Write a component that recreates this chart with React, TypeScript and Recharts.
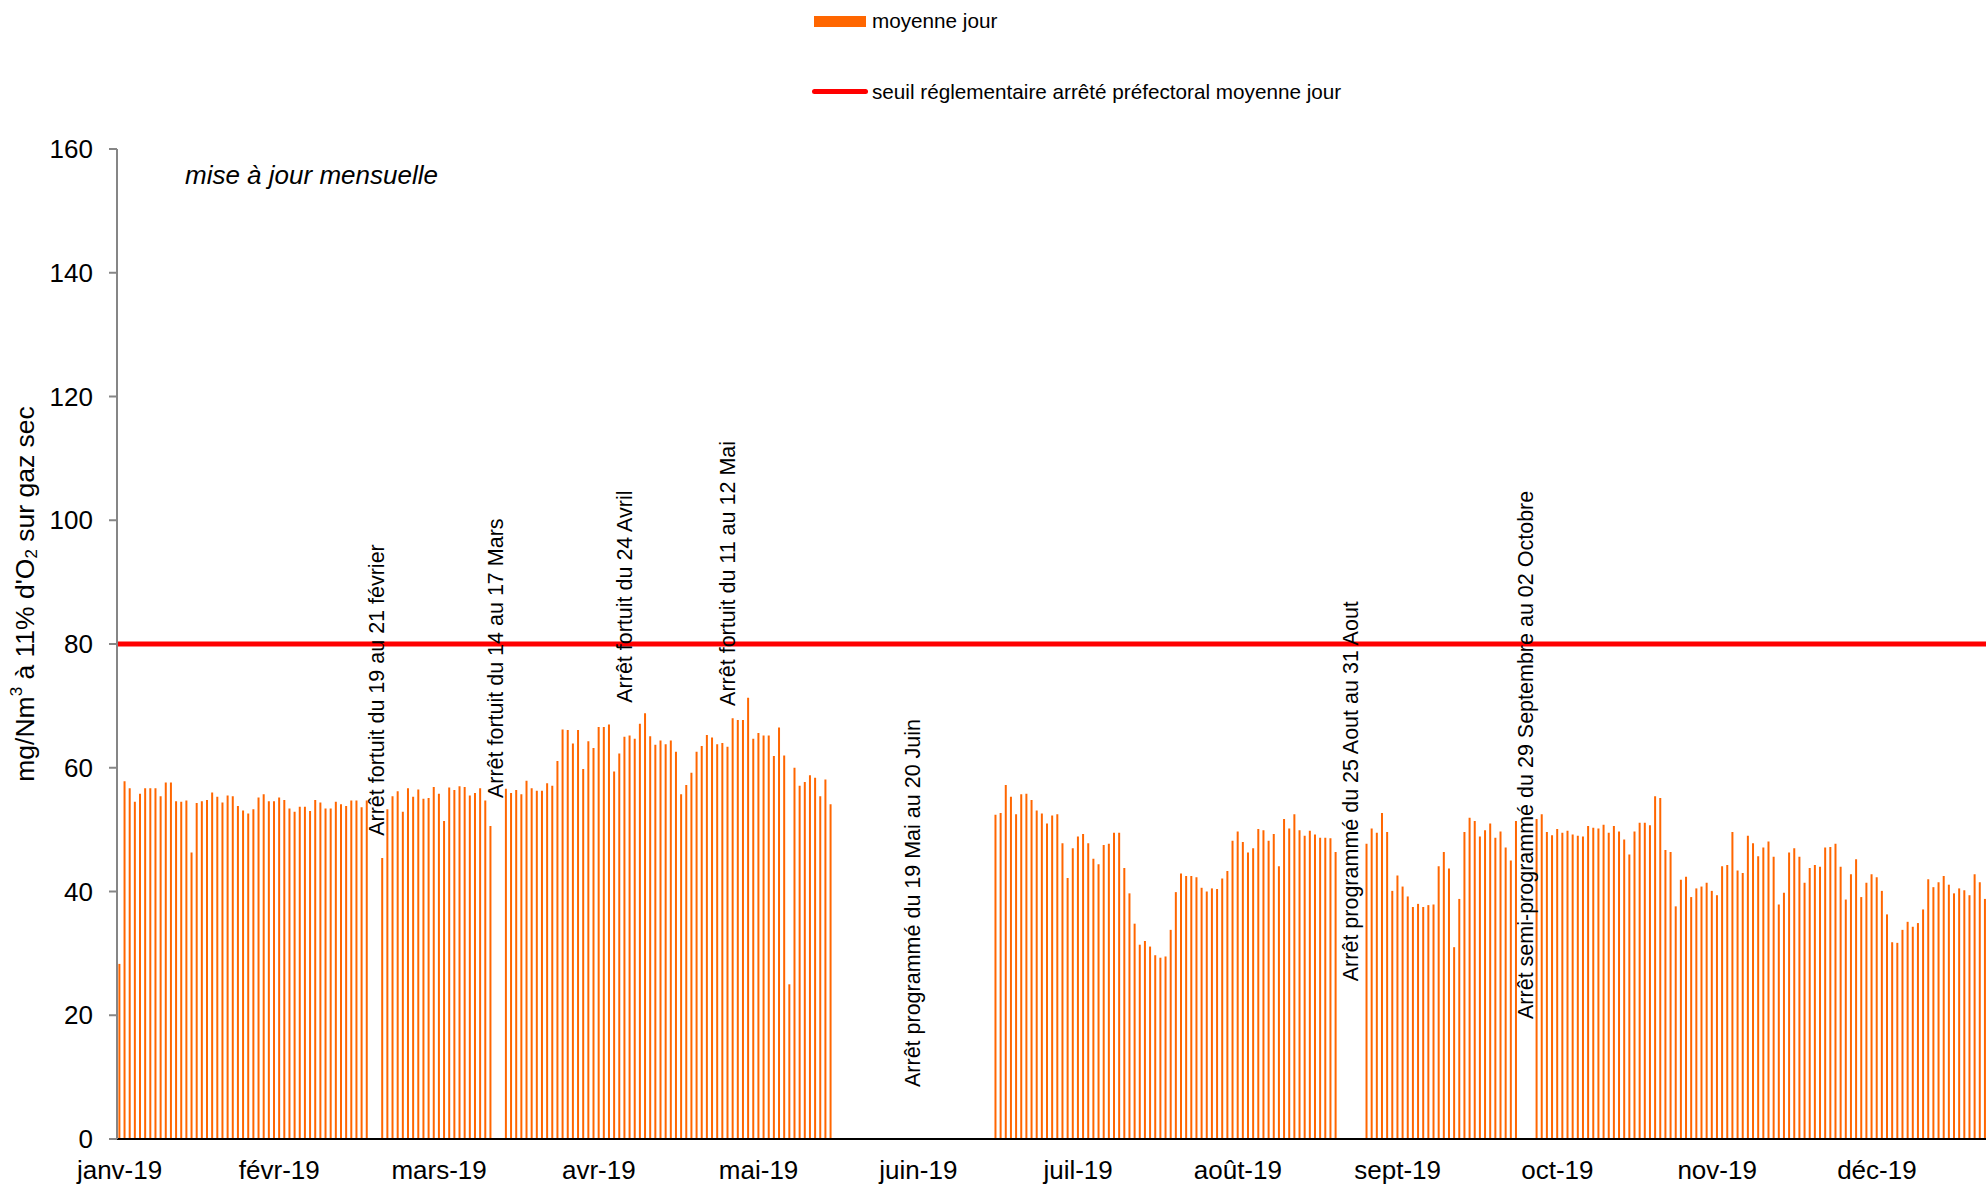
import { BarChart, Bar, XAxis, YAxis, ReferenceLine, ReferenceDot, Legend } from "recharts";

// moyennes journalières (mg/Nm3 à 11% O2), null = arrêt
const JANV = [28.3, 57.8, 56.7, 54.5, 55.8, 56.7, 56.7, 56.7, 55.4, 57.6, 57.6, 54.6, 54.5, 54.7, 46.3, 54.3, 54.6, 54.8, 56.0, 55.3, 54.4, 55.5, 55.4, 53.8, 53.1, 52.6, 53.3, 55.2, 55.7, 54.6, 54.6];
const FEVR = [55.2, 54.8, 53.4, 52.9, 53.7, 53.7, 53.0, 54.8, 54.4, 53.4, 53.4, 54.5, 54.1, 53.8, 54.7, 54.7, 53.6, 54.7, null, null, 45.4, 53.3, 55.4, 56.2, 52.9, 56.7, 55.3, 56.5];
const MARS = [55.0, 55.1, 56.9, 55.8, 51.4, 56.8, 56.4, 57.0, 56.9, 55.5, 55.9, 56.7, 54.7, 50.6, null, null, 56.6, 55.9, 56.4, 55.7, 57.9, 56.7, 56.3, 56.3, 57.5, 57.1, 61.1, 66.2, 66.1, 63.9, 66.1];
const AVR = [59.8, 64.3, 63.2, 66.6, 66.6, 67.0, 59.4, 62.3, 65.0, 65.2, 64.7, 67.1, 68.8, 65.1, 63.7, 64.4, 63.8, 64.4, 62.6, 55.7, 57.2, 59.2, 62.6, 63.5, 65.3, 64.9, 63.8, 64.0, 63.4, 68.0];
const MAI = [67.7, 67.7, 71.3, 64.7, 65.6, 65.2, 65.2, 61.9, 66.5, 62.0, 25.0, 60.0, 57.1, 57.7, 58.8, 58.4, 55.4, 58.1, 54.1, null, null, null, null, null, null, null, null, null, null, null, null];
const JUIN = [null, null, null, null, null, null, null, null, null, null, null, null, null, null, null, null, null, null, null, 52.4, 52.7, 57.2, 55.3, 52.5, 55.7, 55.8, 54.8, 53.1, 52.6, 51.0];
const JUIL = [52.3, 52.5, 47.8, 42.2, 47.0, 48.9, 49.3, 47.8, 45.3, 44.4, 47.5, 47.7, 49.5, 49.5, 43.8, 39.7, 34.8, 31.4, 32.0, 31.1, 29.7, 29.3, 29.5, 33.8, 39.9, 42.9, 42.5, 42.5, 42.3, 40.6, 40.0];
const AOUT = [40.5, 40.4, 42.1, 43.3, 48.2, 49.7, 48.0, 46.3, 47.0, 50.1, 49.9, 48.2, 49.3, 44.1, 51.7, 50.2, 52.5, 49.9, 49.0, 49.8, 49.2, 48.7, 48.7, 48.6, 46.4, null, null, null, null, null, 47.7];
const SEPT = [50.2, 49.5, 52.7, 49.6, 40.1, 42.6, 40.8, 39.2, 37.5, 38.0, 37.5, 37.8, 37.9, 44.1, 46.4, 43.7, 31.0, 38.8, 49.6, 51.9, 51.4, 48.9, 49.9, 51.0, 48.7, 49.7, 47.1, 45.0, 51.4, null];
const OCT = [null, null, 51.7, 52.5, 49.6, 49.1, 50.1, 49.5, 49.8, 49.2, 49.0, 48.9, 50.6, 50.3, 50.2, 50.8, 49.5, 50.6, 49.7, 48.4, 46.0, 49.7, 51.1, 51.1, 50.7, 55.4, 55.1, 46.7, 46.4, 37.6, 41.9];
const NOV = [42.4, 39.1, 40.5, 40.8, 41.4, 40.1, 39.4, 44.1, 44.3, 49.6, 43.4, 43.0, 49.0, 47.8, 45.7, 47.1, 48.1, 45.6, 37.9, 39.8, 46.3, 47.0, 45.6, 41.4, 43.8, 44.3, 44.0, 47.1, 47.2, 47.7];
const DEC = [44.0, 38.7, 42.8, 45.2, 39.1, 41.4, 42.8, 42.3, 40.1, 36.3, 31.8, 31.7, 33.8, 35.1, 34.3, 34.9, 37.1, 42.0, 40.7, 41.5, 42.5, 41.1, 39.7, 40.5, 40.2, 39.4, 42.8, 41.5, 38.8, 40.5, 42.0];

const MONTH_LABELS = ["janv-19", "févr-19", "mars-19", "avr-19", "mai-19", "juin-19", "juil-19", "août-19", "sept-19", "oct-19", "nov-19", "déc-19"];
const Y_TICKS = [0, 20, 40, 60, 80, 100, 120, 140, 160];
const SEUIL = 80;

const ANNOTATIONS = [
  { date: "2019-02-20", y: 49, text: "Arrêt fortuit du 19 au 21 février" },
  { date: "2019-03-15", y: 55.1, text: "Arrêt fortuit du 14 au 17 Mars" },
  { date: "2019-04-09", y: 70.5, text: "Arrêt fortuit du 24 Avril" },
  { date: "2019-04-29", y: 70, text: "Arrêt fortuit du 11 au 12 Mai" },
  { date: "2019-06-04", y: 8.4, text: "Arrêt programmé du 19 Mai au 20 Juin" },
  { date: "2019-08-28", y: 25.5, text: "Arrêt programmé du 25 Aout au 31 Aout" },
  { date: "2019-10-01", y: 19.4, text: "Arrêt semi-programmé du 29 Septembre au 02 Octobre" },
];

const MONTHS = [JANV, FEVR, MARS, AVR, MAI, JUIN, JUIL, AOUT, SEPT, OCT, NOV, DEC];

const data = MONTHS.flatMap((days, m) =>
  days.map((v, d) => ({
    date: `2019-${String(m + 1).padStart(2, "0")}-${String(d + 1).padStart(2, "0")}`,
    moyenne: v,
  }))
);

const FONT = '"Liberation Sans", Arial, sans-serif';

const monthLabel = (date: string) => MONTH_LABELS[Number(date.slice(5, 7)) - 1];

const YLabel = ({ viewBox }: any) => {
  const x = 25;
  const y = viewBox.y + viewBox.height / 2 - 50;
  return (
    <text x={x} y={y} transform={`rotate(-90 ${x} ${y})`} textAnchor="middle" dominantBaseline="central" fontSize={26.5} fontFamily={FONT} fill="#000">
      mg/Nm<tspan dy={-9} fontSize={17}>3</tspan>
      <tspan dy={9}> à 11% d'O</tspan>
      <tspan dy={6} fontSize={17}>2</tspan>
      <tspan dy={-6}> sur gaz sec</tspan>
    </text>
  );
};

const Annotation = ({ viewBox, text }: any) => {
  const { x, y } = viewBox;
  return (
    <text x={x} y={y} transform={`rotate(-90 ${x} ${y})`} textAnchor="start" dominantBaseline="central" fontSize={21.5} fontFamily={FONT} fill="#000">
      {text}
    </text>
  );
};

const LegendContent = () => (
  <div style={{ position: "relative", width: 1986, height: 110, fontFamily: FONT, fontSize: 20.7, color: "#000" }}>
    <div style={{ position: "absolute", left: 814, top: 16, width: 52, height: 11, background: "#ff6600" }} />
    <div style={{ position: "absolute", left: 872, top: 10, lineHeight: "21px", whiteSpace: "nowrap" }}>moyenne jour</div>
    <div style={{ position: "absolute", left: 812, top: 88.5, width: 56, height: 5, borderRadius: 2.5, background: "#ff0000" }} />
    <div style={{ position: "absolute", left: 872, top: 80.5, lineHeight: "21px", whiteSpace: "nowrap" }}>
      seuil réglementaire arrêté préfectoral moyenne jour
    </div>
  </div>
);

export default function App() {
  return (
    <div style={{ position: "fixed", left: 0, top: 0, width: 1986, height: 1185, overflow: "hidden", background: "#fff", fontFamily: FONT }}>
      <BarChart width={2010} height={1185} data={data} margin={{ top: 149, right: 12, bottom: 0, left: 0 }} barCategoryGap="27%">
        <Legend verticalAlign="middle" align="center" layout="horizontal" content={<LegendContent />} wrapperStyle={{ top: 0, left: 0, width: 1986 }} />
        <XAxis
          dataKey="date"
          interval={30}
          tickFormatter={monthLabel}
          tickLine={false}
          tickSize={0}
          tickMargin={22}
          height={46}
          axisLine={{ stroke: "#000", strokeWidth: 2 }}
          tick={{ fontSize: 26, fill: "#000", fontFamily: FONT }}
        />
        <YAxis
          domain={[0, 160]}
          ticks={Y_TICKS}
          interval={0}
          width={117}
          tickSize={8}
          tickMargin={16}
          tickLine={{ stroke: "#868686", strokeWidth: 2 }}
          axisLine={{ stroke: "#868686", strokeWidth: 2 }}
          tick={{ fontSize: 26, fill: "#000", fontFamily: FONT }}
          label={<YLabel />}
        />
        <Bar dataKey="moyenne" name="moyenne jour" fill="#ff6600" isAnimationActive={false} />
        <ReferenceLine y={SEUIL} stroke="#ff0000" strokeWidth={5} />
        {ANNOTATIONS.map((a) => (
          <ReferenceDot key={a.date} x={a.date} y={a.y} r={0} fill="none" stroke="none" label={<Annotation text={a.text} />} />
        ))}
      </BarChart>
      <div style={{ position: "absolute", left: 185, top: 162, fontStyle: "italic", fontSize: 26, lineHeight: "26px", whiteSpace: "nowrap" }}>
        mise à jour mensuelle
      </div>
    </div>
  );
}
